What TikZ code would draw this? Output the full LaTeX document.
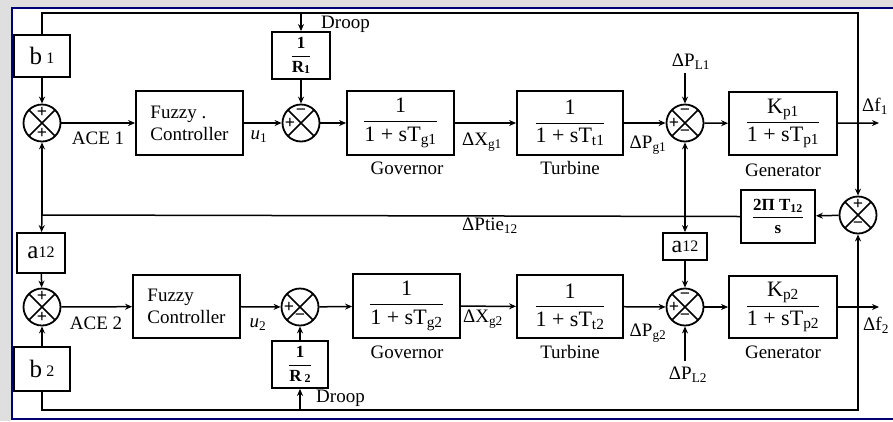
\documentclass[tikz,border=0pt]{standalone}
\usepackage{fontspec}
\setmainfont{Liberation Serif}
\usepackage{amsmath}
\usetikzlibrary{arrows.meta,calc}
\newcommand{\sfr}[2]{$\displaystyle\frac{\text{#1}}{\text{#2}}$}
\tikzset{
  box/.style={draw,line width=1.8pt,inner sep=0pt,align=center},
  sumj/.style={circle,draw,line width=1.8pt,minimum size=37pt,inner sep=0pt,
    path picture={\draw[line width=1.6pt]
      (path picture bounding box.south west) -- (path picture bounding box.north east)
      (path picture bounding box.north west) -- (path picture bounding box.south east);}},
  con/.style={line width=1.5pt},
  arr/.style={con,-{Stealth[length=7pt,width=6pt]}},
  lbl/.style={font=\fontsize{19}{21}\selectfont,inner sep=0pt},
  frc/.style={font=\fontsize{22}{24}\selectfont},
  sgn/.style={font=\fontsize{18}{18}\selectfont\bfseries,inner sep=0pt},
}
\begin{document}
\begin{tikzpicture}[x=1pt,y=-1pt]
\useasboundingbox (0,0) rectangle (893,421);
% window frame
\fill[gray!25] (0,0) rectangle (893,8);
\fill[gray!25] (0,0) rectangle (11,421);
\draw[line width=1.5pt,blue!45!black] (900,8) -- (12,8) -- (12,419) -- (900,419);

% ---------- area 1 ----------
\node[box,minimum width=56pt,minimum height=42pt,font=\fontsize{25}{27}\selectfont] (b1) at (42,56) {b\,\raisebox{1pt}{\fontsize{16}{16}\selectfont 1}};
\node[sumj] (s1) at (42,123) {};
\node[box,minimum width=107pt,minimum height=64pt,font=\fontsize{19}{22}\selectfont,align=left] (fc1) at (189.5,123) {Fuzzy .\\Controller};
\node[sumj] (s2) at (301,123) {};
\node[box,minimum width=58pt,minimum height=47pt,font=\fontsize{17}{19}\selectfont\bfseries] (r1) at (301,55.5) {\sfr{1}{R\raisebox{-1pt}{\fontsize{12}{12}\selectfont 1}}};
\node[box,minimum width=107pt,minimum height=64pt,frc] (gov1) at (400.5,123) {\sfr{1}{1 + sT\textsubscript{g1}}};
\node[box,minimum width=106pt,minimum height=64pt,frc] (tur1) at (570,123) {\sfr{1}{1 + sT\textsubscript{t1}}};
\node[sumj] (s3) at (685,123) {};
\node[box,minimum width=108pt,minimum height=63pt,frc] (gen1) at (783,123.5) {\sfr{K\textsubscript{p1}}{1 + sT\textsubscript{p1}}};

% ---------- tie line ----------
\node[sumj] (st) at (858,215) {};
\node[box,minimum width=74pt,minimum height=53pt,font=\fontsize{17}{19}\selectfont\bfseries] (tie) at (778,216.5) {\sfr{2Π T\textsubscript{12}}{s}};

% ---------- area 2 ----------
\node[box,minimum width=48pt,minimum height=40pt,font=\fontsize{25}{27}\selectfont] (a1) at (41,253) {a\raisebox{1pt}{\fontsize{16}{16}\selectfont 12}};
\node[sumj] (s4) at (42,307) {};
\node[box,minimum width=56pt,minimum height=44pt,font=\fontsize{25}{27}\selectfont] (b2) at (42,369) {b\,\raisebox{1pt}{\fontsize{16}{16}\selectfont 2}};
\node[box,minimum width=107pt,minimum height=63pt,font=\fontsize{19}{22}\selectfont,align=left] (fc2) at (186.5,306.5) {Fuzzy\\Controller};
\node[sumj] (s5) at (300,307) {};
\node[box,minimum width=56pt,minimum height=47pt,font=\fontsize{17}{19}\selectfont\bfseries] (r2) at (300,364.5) {\sfr{1}{R\,\raisebox{-1pt}{\fontsize{12}{12}\selectfont 2}}};
\node[box,minimum width=107pt,minimum height=64pt,frc] (gov2) at (406.5,306) {\sfr{1}{1 + sT\textsubscript{g2}}};
\node[box,minimum width=106pt,minimum height=63pt,frc] (tur2) at (570,306.5) {\sfr{1}{1 + sT\textsubscript{t2}}};
\node[sumj] (s6) at (685,307) {};
\node[box,minimum width=44pt,minimum height=27pt,font=\fontsize{24}{26}\selectfont] (a2) at (685,246.5) {a\raisebox{1pt}{\fontsize{16}{16}\selectfont 12}};
\node[box,minimum width=108pt,minimum height=62pt,frc] (gen2) at (783,307) {\sfr{K\textsubscript{p2}}{1 + sT\textsubscript{p2}}};

% ---------- signs ----------
\node[sgn] (s1a) at ($(s1)+(0,-11)$) {+};
\node[sgn] (s1b) at ($(s1)+(0,10)$) {+};
\node[sgn] (s2a) at ($(s2)+(0,-11)$) {−};
\node[sgn] (s2b) at ($(s2)+(-11,0)$) {+};
\node[sgn] (s3a) at ($(s3)+(0,-11)$) {−};
\node[sgn] (s3b) at ($(s3)+(-11,0)$) {+};
\node[sgn] (s3c) at ($(s3)+(0,10)$) {−};
\node[sgn] (sta) at ($(st)+(0,-11)$) {+};
\node[sgn] (stb) at ($(st)+(0,10)$) {−};
\node[sgn] (s4a) at ($(s4)+(0,-11)$) {+};
\node[sgn] (s4b) at ($(s4)+(0,10)$) {+};
\node[sgn] (s5a) at ($(s5)+(-11,0)$) {+};
\node[sgn] (s5b) at ($(s5)+(0,10)$) {−};
\node[sgn] (s6a) at ($(s6)+(0,-11)$) {−};
\node[sgn] (s6b) at ($(s6)+(-11,0)$) {+};
\node[sgn] (s6c) at ($(s6)+(0,10)$) {−};

% ---------- coordinates ----------
\coordinate (tl) at (42,13);
\coordinate (tr) at (858,13);
\coordinate (d1) at (301,13);
\coordinate (jf1) at (858,123);
\coordinate (f1) at (879,123);
\coordinate (pl1) at (685,73);
\coordinate (jl) at (42,215);
\coordinate (jr) at (685,215);
\coordinate (pl2) at (685,361);
\coordinate (jf2) at (858,307);
\coordinate (f2) at (879,307);
\coordinate (bl) at (42,410);
\coordinate (br) at (858,410);
\coordinate (d2) at (300,410);

% ---------- connectors area 1 ----------
\draw[con] (jf1) -- (tr) -- (tl) -- (b1.north);
\draw[arr] (d1) -- (r1.north);
\draw[arr] (b1) -- (s1);
\draw[arr] (s1) -- (fc1);
\draw[arr] (fc1) -- (s2);
\draw[arr] (r1) -- (s2);
\draw[arr] (s2) -- (gov1);
\draw[arr] (gov1) -- (tur1);
\draw[arr] (tur1) -- (s3);
\draw[arr] (pl1) -- (s3);
\draw[arr] (s3) -- (gen1);
\draw[arr] (gen1) -- (f1);
\draw[arr] (jf1) -- (st);

% ---------- tie ----------
\draw[arr] (st) -- (tie);
\draw[con] (tie.west) -- (jl);
\draw[arr] (jl) -- (s1);
\draw[arr] (jl) -- (a1);
\draw[arr] (jr) -- (s3);
\draw[arr] (jr) -- (a2);

% ---------- connectors area 2 ----------
\draw[arr] (a1) -- (s4);
\draw[arr] (b2) -- (s4);
\draw[arr] (s4) -- (fc2);
\draw[arr] (fc2) -- (s5);
\draw[arr] (r2) -- (s5);
\draw[arr] (s5) -- (gov2);
\draw[arr] (gov2) -- (tur2);
\draw[arr] (tur2) -- (s6);
\draw[arr] (a2) -- (s6);
\draw[arr] (pl2) -- (s6);
\draw[arr] (s6) -- (gen2);
\draw[arr] (gen2) -- (f2);
\draw[arr] (jf2) -- (st);
\draw[con] (jf2) -- (br) -- (bl) -- (b2.south);
\draw[arr] (d2) -- (r2.south);

% ---------- labels ----------
\node[lbl,anchor=west] (ldr1) at (321,24) {Droop};
\node[lbl] (lace1) at (98,138) {ACE 1};
\node[lbl] (lu1) at (259,137) {\textit{u}\textsubscript{1}};
\node[lbl] (lgov1) at (407,168) {Governor};
\node[lbl] (lxg1) at (482,142) {ΔX\textsubscript{g1}};
\node[lbl] (ltur1) at (570,168) {Turbine};
\node[lbl] (lpg1) at (648,145) {ΔP\textsubscript{g1}};
\node[lbl] (lpl1) at (691,62) {ΔP\textsubscript{L1}};
\node[lbl] (lgen1) at (783,170) {Generator};
\node[lbl,anchor=west] (lf1) at (862,106) {Δf\textsubscript{1}};
\node[lbl] (ltie) at (490,226) {ΔPtie\textsubscript{12}};
\node[lbl] (lace2) at (96,323) {ACE 2};
\node[lbl] (lu2) at (258,325) {\textit{u}\textsubscript{2}};
\node[lbl] (lgov2) at (407,352) {Governor};
\node[lbl] (lxg2) at (483,319) {ΔX\textsubscript{g2}};
\node[lbl] (ltur2) at (570,352) {Turbine};
\node[lbl] (lpg2) at (648,333) {ΔP\textsubscript{g2}};
\node[lbl] (lpl2) at (688,375) {ΔP\textsubscript{L2}};
\node[lbl] (lgen2) at (783,352) {Generator};
\node[lbl,anchor=west] (lf2) at (863,325) {Δf\textsubscript{2}};
\node[lbl,anchor=west] (ldr2) at (316,398) {Droop};
\end{tikzpicture}
\end{document}
